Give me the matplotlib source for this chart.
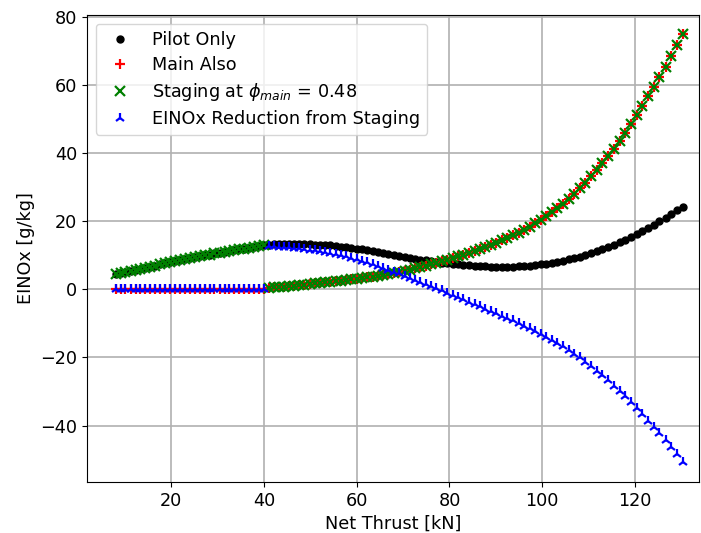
"""
EINOx vs net thrust for pilot-only, main-also and staged operation.
"""
import matplotlib

matplotlib.use("Agg")
import matplotlib.pyplot as plt
import numpy as np

# pilot-only operating range (staging uses pilot here)
thrust_low = [8.0, 9.1, 10.1, 11.2, 12.3, 13.3, 14.4, 15.5, 16.5, 17.6, 18.7, 19.7,
              20.8, 21.9, 22.9, 24.0, 25.1, 26.1, 27.2, 28.3, 29.3, 30.4, 31.5, 32.5,
              33.6, 34.7, 35.7, 36.8, 37.9, 38.9, 40.0]
pilot_low = [4.4, 4.75, 5.05, 5.4, 5.7, 6.0, 6.35, 6.65, 6.95, 7.3, 7.6, 7.9,
             8.2, 8.5, 8.8, 9.1, 9.4, 9.65, 9.95, 10.2, 10.5, 10.75, 11.0, 11.25,
             11.5, 11.75, 11.95, 12.2, 12.4, 12.6, 12.85]
main_low = [0.0] * len(thrust_low)

# main stage lit (staging uses main here)
thrust_high = [41.0, 42.1, 43.2, 44.3, 45.4, 46.5, 47.6, 48.7, 49.9, 51.0, 52.1, 53.2,
               54.3, 55.5, 56.6, 57.7, 58.8, 60.0, 61.1, 62.2, 63.4, 64.5, 65.7, 66.8,
               68.0, 69.1, 70.3, 71.4, 72.6, 73.7, 74.9, 76.0, 77.2, 78.4, 79.5, 80.7,
               81.9, 83.0, 84.2, 85.4, 86.6, 87.7, 88.9, 90.1, 91.3, 92.5, 93.7, 94.9,
               96.1, 97.3, 98.5, 99.7, 100.9, 102.1, 103.3, 104.5, 105.7, 106.9, 108.1,
               109.3, 110.5, 111.8, 113.0, 114.2, 115.4, 116.7, 117.9, 119.1, 120.4,
               121.6, 122.8, 124.1, 125.3, 126.6, 127.8, 129.1, 130.3]
pilot_high = [13.1, 13.2, 13.25, 13.3, 13.3, 13.3, 13.3, 13.25, 13.2, 13.1, 13.0, 12.95,
              12.85, 12.7, 12.55, 12.4, 12.2, 11.95, 11.7, 11.45, 11.15, 10.85, 10.55, 10.25,
              9.95, 9.7, 9.4, 9.15, 8.9, 8.7, 8.45, 8.25, 8.05, 7.85, 7.65, 7.5,
              7.35, 7.2, 7.05, 6.95, 6.85, 6.75, 6.65, 6.6, 6.6, 6.6, 6.65, 6.7,
              6.8, 6.95, 7.1, 7.3, 7.5, 7.75, 8.0, 8.35, 8.75, 9.15, 9.6,
              10.05, 10.55, 11.1, 11.7, 12.35, 13.05, 13.8, 14.6, 15.4, 16.25,
              17.1, 18.0, 19.0, 20.0, 21.05, 22.1, 23.15, 24.2]
main_high = [0.5, 0.6, 0.7, 0.8, 0.95, 1.1, 1.25, 1.4, 1.55, 1.7, 1.85, 2.0,
             2.15, 2.35, 2.5, 2.7, 2.9, 3.1, 3.3, 3.5, 3.7, 3.95, 4.2, 4.45,
             4.75, 5.05, 5.4, 5.75, 6.1, 6.5, 6.9, 7.3, 7.75, 8.2, 8.65, 9.15,
             9.65, 10.15, 10.7, 11.25, 11.85, 12.45, 13.05, 13.7, 14.35, 15.05, 15.8, 16.6,
             17.45, 18.35, 19.3, 20.3, 21.4, 22.55, 23.8, 25.1, 26.5, 28.0, 29.6,
             31.3, 33.1, 35.0, 37.0, 39.1, 41.3, 43.6, 46.0, 48.5, 51.1,
             53.8, 56.6, 59.4, 62.3, 65.3, 68.4, 71.6, 74.9]

thrust = np.array(thrust_low + thrust_high)
pilot = np.array(pilot_low + pilot_high)
main = np.array(main_low + main_high)
staging = np.array(pilot_low + main_high)
reduction = pilot - staging

plt.rcParams["font.size"] = 12.7

fig = plt.figure(figsize=(7.01, 5.33), dpi=100)
ax = fig.add_axes([0.124, 0.096, 0.873, 0.876])

ax.plot(thrust, pilot, "k.", markersize=10, label="Pilot Only")
ax.plot(thrust, main, "r+", markersize=7, markeredgewidth=1.6, label="Main Also")
ax.plot(thrust, staging, "gx", markersize=7, markeredgewidth=1.6,
        label=r"Staging at $\phi_{main}$ = 0.48")
ax.plot(thrust, reduction, "b2", markersize=7.5, markeredgewidth=1.6,
        label="EINOx Reduction from Staging")

ax.set_xlabel("Net Thrust [kN]")
ax.set_ylabel("EINOx [g/kg]")
ax.set_xlim(1.8, 133.8)
ax.set_ylim(-56.5, 80.5)
ax.grid(True, color="#b0b0b0", linewidth=1.2)
ax.legend(loc="upper left", labelspacing=0.4)

fig.savefig("out.png", dpi=100)
